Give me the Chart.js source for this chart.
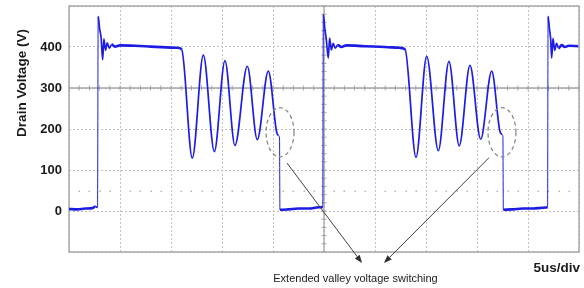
<!DOCTYPE html>
<html><head><meta charset="utf-8">
<script src="https://cdn.jsdelivr.net/npm/chart.js@4.4.0/dist/chart.umd.min.js"></script>
<style>html,body{margin:0;padding:0;background:#fff}#wrap{width:584px;height:288px;position:relative}</style>
</head><body><div id="wrap"><canvas id="c"></canvas></div>
<script>
// ---- data (time in microseconds, drain voltage in volts) ----
const timeUs = [
  0.00, 0.8, 1.6, 2.3, 2.6, 2.80, 2.86, 3.00, 3.15, 3.30, 3.42, 3.58, 3.75, 3.95, 4.20, 4.50, 5.0, 6.5, 8.0, 9.5, 10.6, 11.05,
  12.09, 13.17, 14.25, 15.29, 16.27, 17.48, 18.46, 19.54, 20.36, 20.55, 20.64, 20.68,
  21.5, 22.5, 23.5, 24.5, 24.88, 24.93, 25.08, 25.22, 25.42, 25.55, 25.72, 25.9, 26.1, 26.35, 26.7, 27.2, 29, 31, 32.4, 32.95,
  34.02, 35.07, 36.21, 37.25, 38.26, 39.31, 40.36, 41.44, 42.25, 42.45, 42.54, 42.58,
  43.5, 44.5, 45.5, 46.5, 46.92, 46.97, 47.10, 47.22, 47.32, 47.45, 47.62, 47.8, 48.0, 48.3, 48.6, 49.0, 49.93
];
const drainV = [
  5, 4, 6, 7, 11, 9, 475, 445, 422, 369, 420, 392, 410, 397, 406, 401, 404, 403, 401, 399, 398, 394,
  129, 380, 145, 367, 160, 353, 174, 341, 192, 184, 178, 3,
  4, 6, 6, 9, 10, 479, 445, 420, 373, 422, 393, 409, 397, 405, 400, 404, 402, 400, 398, 394,
  131, 377, 147, 365, 159, 355, 175, 341, 194, 187, 181, 3,
  4, 6, 6, 8, 9, 475, 445, 420, 373, 421, 392, 409, 397, 405, 400, 403, 402
];
const yTickLabels = [0, 100, 200, 300, 400];
const yTitle = 'Drain Voltage (V)';
const timebaseLabel = '5us/div';
const noteLabel = 'Extended valley voltage switching';
const markerV = 50;
const ellipseT = [20.69, 42.45];
const ellipseV = [192, 192];
const arrowFromT = [21.37, 41.18];
const arrowFromV = [117, 130];
const arrowToT = [28.73, 30.88];
const arrowToV = [-127, -127];

const FONT = '"Liberation Sans", Arial, Helvetica, sans-serif';
const points = timeUs.map((t, i) => ({x: t, y: drainV[i]}));

function ln(ctx, x1, y1, x2, y2) { ctx.beginPath(); ctx.moveTo(x1, y1); ctx.lineTo(x2, y2); ctx.stroke(); }

const scopePlugin = {
  id: 'scope',
  beforeDatasetsDraw(chart) {
    const {ctx, chartArea: a, scales: {x, y}} = chart;
    ctx.save();
    ctx.fillStyle = '#b5b5b5';
    const ym = y.getPixelForValue(markerV);
    for (let t = 1; t < 50; t++) {
      if (t % 5 === 0) continue;
      ctx.fillRect(Math.round(x.getPixelForValue(t)) - 0.5, Math.round(ym) - 0.5, 1.5, 1.5);
    }
    ctx.strokeStyle = '#a4a4a4'; ctx.lineWidth = 1.3;
    const yc = y.getPixelForValue(300), xc = x.getPixelForValue(25);
    ln(ctx, a.left, yc, a.right, yc);
    ln(ctx, xc, a.top, xc, a.bottom);
    ctx.lineWidth = 1;
    for (let t = 0; t <= 50; t += 1) { const px = x.getPixelForValue(t); ln(ctx, px, yc - 2.5, px, yc + 2.5); }
    for (let v = -100; v <= 500; v += 20) { const py = y.getPixelForValue(v); ln(ctx, xc - 2.5, py, xc + 2.5, py); }
    ctx.strokeStyle = '#a8a8a8'; ctx.lineWidth = 1.5;
    ctx.strokeRect(a.left, a.top, a.right - a.left, a.bottom - a.top);
    ctx.restore();
  },
  afterDraw(chart) {
    const {ctx, scales: {x, y}} = chart;
    ctx.save();
    ctx.strokeStyle = '#8a8a8a'; ctx.lineWidth = 1.3; ctx.setLineDash([4, 3]);
    for (let i = 0; i < ellipseT.length; i++) {
      const cx = x.getPixelForValue(ellipseT[i]), cy = y.getPixelForValue(ellipseV[i]);
      const rx = x.getPixelForValue(ellipseT[i] + 1.37) - cx;
      const ry = cy - y.getPixelForValue(ellipseV[i] + 60);
      ctx.beginPath(); ctx.ellipse(cx, cy, rx, ry, 0, 0, Math.PI * 2); ctx.stroke();
    }
    ctx.setLineDash([]);
    ctx.strokeStyle = '#404040'; ctx.fillStyle = '#303030'; ctx.lineWidth = 1;
    for (let i = 0; i < arrowFromT.length; i++) {
      const x1 = x.getPixelForValue(arrowFromT[i]), y1 = y.getPixelForValue(arrowFromV[i]);
      const x2 = x.getPixelForValue(arrowToT[i]), y2 = y.getPixelForValue(arrowToV[i]);
      const ang = Math.atan2(y2 - y1, x2 - x1);
      const L = 8, W = 3;
      const bx = x2 - L * Math.cos(ang), by = y2 - L * Math.sin(ang);
      ln(ctx, x1, y1, bx, by);
      ctx.beginPath();
      ctx.moveTo(x2, y2);
      ctx.lineTo(bx + W * Math.sin(ang), by - W * Math.cos(ang));
      ctx.lineTo(bx - W * Math.sin(ang), by + W * Math.cos(ang));
      ctx.closePath(); ctx.fill();
    }
    ctx.fillStyle = '#1a1a1a';
    ctx.font = 'bold 13.5px ' + FONT;
    ctx.textAlign = 'right'; ctx.textBaseline = 'alphabetic';
    ctx.fillText(timebaseLabel, 580, 272);
    ctx.font = '11px ' + FONT;
    ctx.textAlign = 'center';
    ctx.fillText(noteLabel, 355.5, 282);
    ctx.font = 'bold 13.5px ' + FONT;
    ctx.translate(25.5, 83);
    ctx.rotate(-Math.PI / 2);
    ctx.textAlign = 'center';
    ctx.fillText(yTitle, 0, 0);
    ctx.restore();
  }
};

new Chart(document.getElementById('c'), {
  type: 'line',
  data: {
    datasets: [{
      data: points,
      borderColor: 'rgb(28,28,228)',
      borderWidth: 1.6,
      pointRadius: 0,
      fill: false,
      cubicInterpolationMode: 'monotone',
      segment: {
        borderWidth: c => {
          const dt = c.p1.parsed.x - c.p0.parsed.x;
          const dv = Math.abs(c.p1.parsed.y - c.p0.parsed.y);
          if (dv < 12 && dt > 0.25) return 2.6;
          if (dt < 0.1) return 1;
          return 1.7;
        }
      }
    }]
  },
  options: {
    responsive: true,
    maintainAspectRatio: false,
    animation: false,
    events: [],
    layout: {padding: {top: 6, right: 5, bottom: 0, left: 0}},
    plugins: {legend: {display: false}, tooltip: {enabled: false}},
    scales: {
      x: {
        type: 'linear', min: 0, max: 50,
        afterFit: s => { s.height = 36; s.paddingLeft = 0; s.paddingRight = 0; },
        ticks: {display: false, stepSize: 5},
        grid: {color: '#c2c2c2', lineWidth: 1, drawTicks: false},
        border: {display: false, dash: [2, 2]}
      },
      y: {
        type: 'linear', min: -100, max: 500,
        afterFit: s => { s.width = 69; s.paddingTop = 0; s.paddingBottom = 0; },
        ticks: {
          stepSize: 100, padding: 7, color: '#1a1a1a',
          font: {family: FONT, size: 13, weight: 'bold'},
          callback: v => yTickLabels.includes(v) ? String(v) : ''
        },
        grid: {color: '#c2c2c2', lineWidth: 1, drawTicks: false},
        border: {display: false, dash: [2, 2]}
      }
    }
  },
  plugins: [scopePlugin]
});
</script>
</body></html>
